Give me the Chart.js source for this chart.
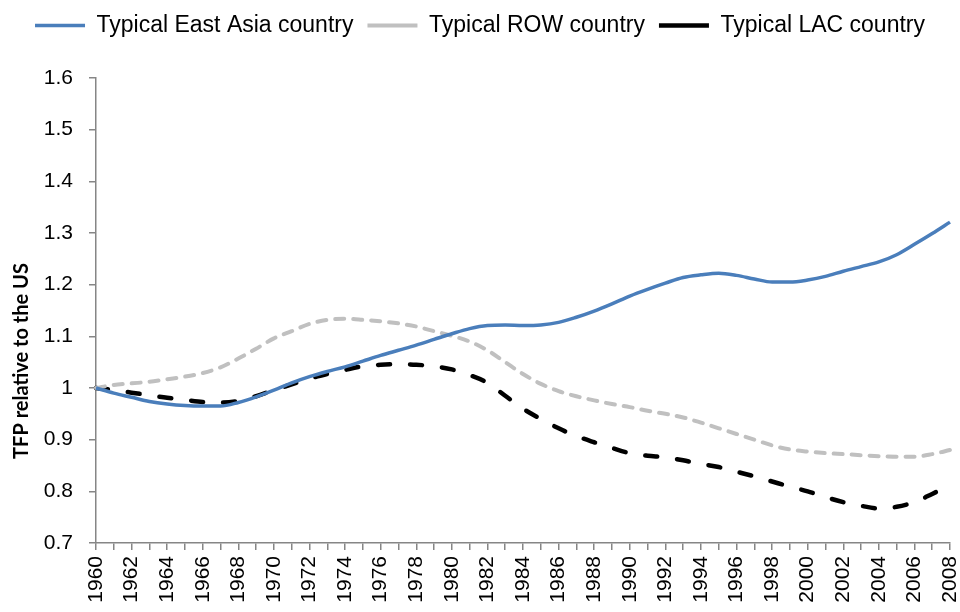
<!DOCTYPE html>
<html>
<head>
<meta charset="utf-8">
<script src="https://cdn.jsdelivr.net/npm/chart.js@4"></script>
<style>
  html, body { margin: 0; padding: 0; background: #fff; overflow: hidden; }
  #wrap { width: 960px; height: 620px; position: relative; }
</style>
</head>
<body>
<div id="wrap"><canvas id="myChart"></canvas></div>
<script>
const years = Array.from({ length: 49 }, (_, i) => String(1960 + i));

const eastAsia = [
  1.000, 0.990, 0.982, 0.974, 0.969, 0.966, 0.965, 0.965, 0.972, 0.983,
  0.996, 1.010, 1.022, 1.032, 1.041, 1.052, 1.063, 1.073, 1.083, 1.094,
  1.105, 1.115, 1.121, 1.122, 1.121, 1.122, 1.127, 1.137, 1.149, 1.163,
  1.178, 1.191, 1.203, 1.214, 1.219, 1.222, 1.218, 1.211, 1.205, 1.205,
  1.209, 1.216, 1.226, 1.235, 1.244, 1.258, 1.278, 1.299, 1.321
];
const row = [
  1.000, 1.006, 1.009, 1.012, 1.017, 1.022, 1.029, 1.040, 1.057, 1.076,
  1.096, 1.110, 1.124, 1.132, 1.134, 1.132, 1.129, 1.125, 1.119, 1.110,
  1.101, 1.090, 1.073, 1.050, 1.027, 1.008, 0.994, 0.984, 0.976, 0.969,
  0.963, 0.956, 0.950, 0.943, 0.933, 0.922, 0.911, 0.900, 0.889, 0.881,
  0.877, 0.874, 0.872, 0.870, 0.868, 0.867, 0.867, 0.872, 0.880
];
const lac = [
  1.000, 0.996, 0.991, 0.986, 0.981, 0.977, 0.973, 0.972, 0.975, 0.984,
  0.996, 1.007, 1.018, 1.027, 1.035, 1.042, 1.045, 1.046, 1.045, 1.042,
  1.036, 1.025, 1.010, 0.985, 0.960, 0.940, 0.922, 0.907, 0.895, 0.884,
  0.874, 0.869, 0.866, 0.860, 0.853, 0.847, 0.838, 0.829, 0.819, 0.809,
  0.800, 0.789, 0.779, 0.772, 0.767, 0.770, 0.779, 0.795, 0.812
];

const axisColor = "#868686";
const tickFont = { family: "'Liberation Sans', Arial, sans-serif", size: 21 };
const legendFont = { family: "'Liberation Sans', Arial, sans-serif", size: 23 };

// y axis title drawn by hand so it sits where the original has it
const yTitle = {
  id: "yTitle",
  afterDraw(chart) {
    const ctx = chart.ctx;
    ctx.save();
    ctx.translate(22, 361);
    ctx.rotate(-Math.PI / 2);
    ctx.font = "bold 20px Lato, 'Open Sans', sans-serif";
    ctx.fillStyle = "#000";
    ctx.textAlign = "center";
    ctx.textBaseline = "middle";
    ctx.fillText("TFP relative to the US", 0, 0);
    ctx.restore();
  }
};

// taller legend box to push the plot down
const legendSpace = {
  id: "legendSpace",
  beforeInit(chart) {
    const fit = chart.legend.fit;
    chart.legend.fit = function () {
      fit.bind(chart.legend)();
      this.height = 78;
    };
  }
};

const line = (label, data, color, width, dash) => ({
  label,
  data,
  borderColor: color,
  backgroundColor: color,
  borderWidth: width,
  borderDash: dash,
  borderCapStyle: dash.length ? "round" : "butt",
  pointRadius: 0,
  pointStyle: "line",
  cubicInterpolationMode: "monotone",
  fill: false
});

new Chart(document.querySelector("#myChart"), {
  type: "line",
  data: {
    labels: years,
    datasets: [
      line("Typical East Asia country", eastAsia, "#4a7ebb", 3.5, []),
      line("Typical ROW country", row, "#c0c0c0", 4, [9, 9]),
      line("Typical LAC country", lac, "#000000", 4.5, [12, 20])
    ]
  },
  options: {
    responsive: true,
    maintainAspectRatio: false,
    animation: false,
    layout: { padding: 0 },
    plugins: {
      tooltip: { enabled: false },
      legend: {
        position: "top",
        labels: {
          usePointStyle: true,
          pointStyleWidth: 50,
          font: legendFont,
          color: "#000",
          padding: 14
        }
      }
    },
    scales: {
      x: {
        afterFit: (s) => {
          s.height = 620 - 543;
          s.paddingRight = 10;
          s.paddingLeft = 0;
        },
        grid: { drawOnChartArea: false, color: axisColor, tickLength: 7, lineWidth: 1.5 },
        border: { color: axisColor, width: 1.5 },
        ticks: {
          autoSkip: false,
          maxRotation: 90,
          minRotation: 90,
          padding: 6,
          color: "#000",
          font: tickFont,
          callback: (v, i) => (i % 2 ? "" : years[i])
        }
      },
      y: {
        min: 0.7,
        max: 1.6,
        afterFit: (s) => { s.width = 96; },
        grid: { drawOnChartArea: false, color: axisColor, tickLength: 7, lineWidth: 1.5 },
        border: { color: axisColor, width: 1.5 },
        ticks: {
          stepSize: 0.1,
          padding: 16,
          color: "#000",
          font: tickFont,
          callback: (v) => String(parseFloat(v.toFixed(1)))
        }
      }
    }
  },
  plugins: [yTitle, legendSpace]
});
</script>
</body>
</html>
